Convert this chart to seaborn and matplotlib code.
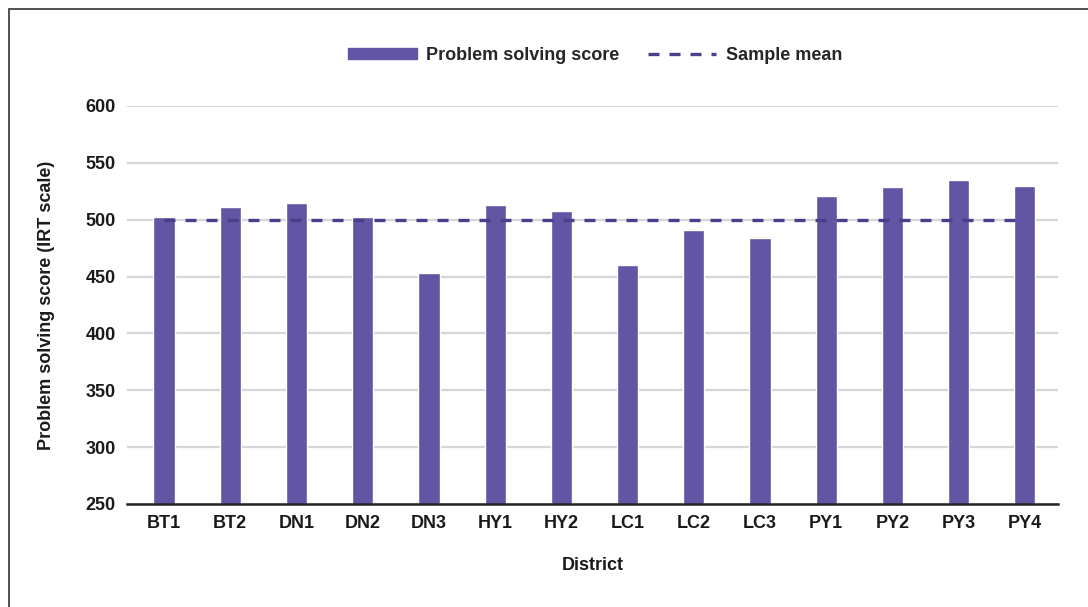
import matplotlib
matplotlib.use("Agg")
import matplotlib.pyplot as plt
import matplotlib.patches as mpatches
from matplotlib.lines import Line2D
import seaborn as sns
import pandas as pd

districts = ["BT1", "BT2", "DN1", "DN2", "DN3", "HY1", "HY2",
             "LC1", "LC2", "LC3", "PY1", "PY2", "PY3", "PY4"]
scores = [502, 511, 515, 502, 453, 513, 508, 460, 491, 484, 521, 529, 535, 530]
sample_mean = [500] * len(districts)
y_ticks = [250, 300, 350, 400, 450, 500, 550, 600]

bar_color = "#6155a4"
line_color = "#4b3f8c"

sns.set_theme(style="white")
plt.rcParams["font.family"] = ["Liberation Sans Narrow", "Liberation Sans", "DejaVu Sans"]

df = pd.DataFrame({"district": districts, "score": scores, "mean": sample_mean})

fig = plt.figure(figsize=(10.88, 6.07), dpi=100)
ax = fig.add_axes([127 / 1088, 1 - 504 / 607, (1058 - 127) / 1088, (504 - 106) / 607])

sns.barplot(data=df, x="district", y="score", color=bar_color, width=0.32,
            saturation=1, ax=ax, zorder=3)
ax.plot(range(len(districts)), df["mean"], color=line_color, lw=2.4,
        ls=(0, (3.3, 3)), zorder=4)

ax.set_ylim(250, 600)
ax.set_xlim(-0.56, 13.5)
ax.set_yticks(y_ticks)
ax.yaxis.grid(True, color="#d6d6d6", lw=1.6, zorder=0)
ax.set_axisbelow(True)
for s in ["left", "right", "top"]:
    ax.spines[s].set_visible(False)
ax.spines["bottom"].set_color("#262626")
ax.spines["bottom"].set_linewidth(1.8)
ax.spines["bottom"].set_zorder(5)
ax.tick_params(axis="both", length=0, labelsize=13, colors="#1a1a1a", pad=8)
for lab in ax.get_xticklabels() + ax.get_yticklabels():
    lab.set_fontweight("bold")
ax.set_xlabel("District", fontsize=13, fontweight="bold", color="#1a1a1a", labelpad=18)
ax.set_ylabel("Problem solving score (IRT scale)", fontsize=13, fontweight="bold",
              color="#1a1a1a", labelpad=22)

handles = [mpatches.Patch(color=bar_color, label="Problem solving score"),
           Line2D([0], [0], color=line_color, lw=2.4, ls=(0, (3.3, 3)), label="Sample mean")]
fig.legend(handles=handles, loc="center", bbox_to_anchor=(595 / 1088, 1 - 55 / 607),
           ncol=2, frameon=False, handlelength=3.8, handleheight=0.55,
           columnspacing=1.6, handletextpad=0.5,
           prop={"weight": "bold", "size": 13})

# outer frame
fig.patches.append(mpatches.Rectangle((9 / 1088, -0.01), 1.05, 1 - 9 / 607 + 0.01,
                                      transform=fig.transFigure, fill=False,
                                      edgecolor="#333333", lw=1.2))

fig.savefig("out.png", dpi=100)
